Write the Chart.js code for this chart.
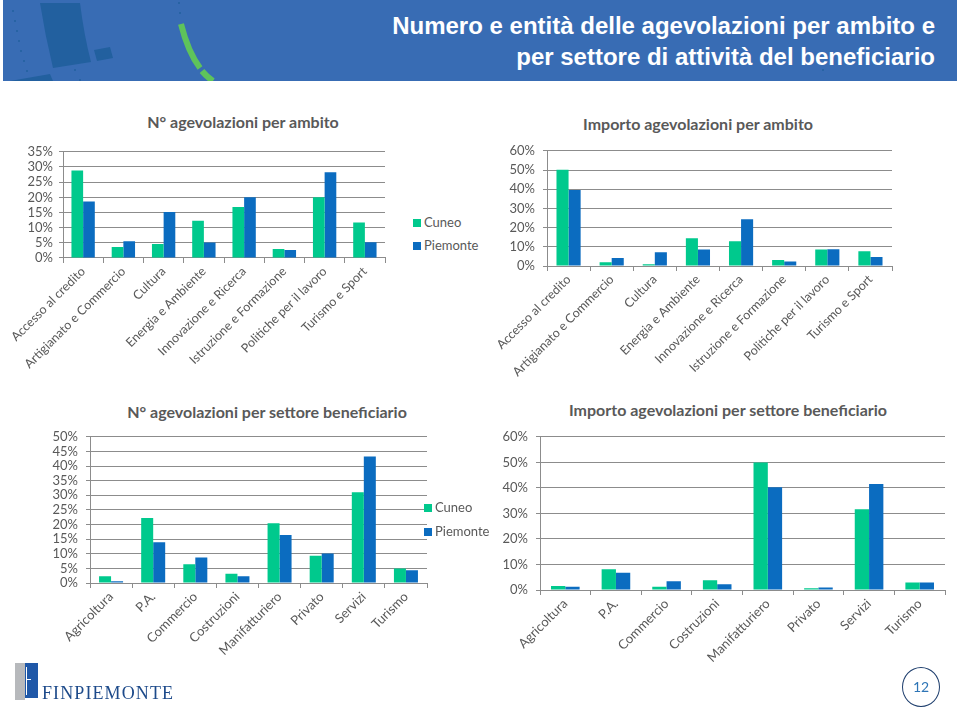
<!DOCTYPE html>
<html>
<head>
<meta charset="utf-8">
<script src="https://cdn.jsdelivr.net/npm/chart.js@4.4.1/dist/chart.umd.min.js"></script>
<style>
  html, body { margin:0; padding:0; background:#fff; }
  body { width:960px; height:708px; position:relative; overflow:hidden; font-family:'Lato', sans-serif; }
  #banner { position:absolute; left:3px; top:0; width:954px; height:81px; background:#386cb4; }
  #banner svg { position:absolute; left:-3px; top:0; }
  #mainTitle { position:absolute; right:22px; top:10px; text-align:right; color:#fff;
    font-family:'Liberation Sans Narrow','Liberation Sans',Arial,sans-serif; font-weight:bold; font-size:24px; line-height:31px; }
  canvas { position:absolute; }
  .ctitle { position:absolute; color:#595959; font-family:'Lato',sans-serif; font-weight:bold; font-size:16px; white-space:nowrap; transform:translateX(-50%); }
  .leg { position:absolute; color:#595959; font-family:'Lato',sans-serif; font-size:13px; line-height:14px; white-space:nowrap; }
  .leg span { display:inline-block; width:8px; height:8px; margin-right:3px; vertical-align:0px; }
  #logoText { position:absolute; left:42px; top:683px; font-family:'Liberation Serif','DejaVu Serif',serif; font-size:18px; color:#1d4a8a; letter-spacing:1.1px; }
  #pageNum { position:absolute; left:902px; top:667px; width:36px; height:38px; border:1.5px solid #1f3f6e; border-radius:50%;
    color:#2e75b6; font-family:'Lato',sans-serif; font-size:14px; line-height:38px; text-align:center; }
</style>
</head>
<body>
<div id="banner">
  <svg width="960" height="81" viewBox="0 0 960 81">
    <path d="M40,3 L80,3 Q84,35 91,62 L53,68 Q45,35 40,3 Z" fill="#22609f"/>
    <polygon points="94,50 110,47 113,58 97,61" fill="#22609f"/>
    <polygon points="10,81 50,74 53,81" fill="#22609f"/>
    <path d="M181,24 Q188,52 200,68" stroke="#5ec35b" stroke-width="6" fill="none"/>
    <path d="M202,71 Q207,77 213,81" stroke="#5ec35b" stroke-width="6" fill="none"/>
    <g fill="#22609f">
      <circle cx="13" cy="11" r="1"/><circle cx="15" cy="21" r="1"/><circle cx="17" cy="31" r="1"/>
      <circle cx="19" cy="41" r="1"/><circle cx="21" cy="51" r="1"/><circle cx="24" cy="61" r="1"/>
      <circle cx="27" cy="71" r="1"/><circle cx="75" cy="70" r="1"/><circle cx="80" cy="80" r="1"/>
      <circle cx="179" cy="3" r="1"/><circle cx="180" cy="13" r="1"/><circle cx="823" cy="70" r="1"/>
    </g>
  </svg>
  <div id="mainTitle">Numero e entità delle agevolazioni per ambito e<br>per settore di attività del beneficiario</div>
</div>

<div class="ctitle" style="left:243px; top:112px;">N° agevolazioni per ambito</div>
<div class="ctitle" style="left:698px; top:114px;">Importo agevolazioni per ambito</div>
<div class="ctitle" style="left:267px; top:402px;">N° agevolazioni per settore beneficiario</div>
<div class="ctitle" style="left:728px; top:400px;">Importo agevolazioni per settore beneficiario</div>

<canvas id="c1" width="400" height="242" style="left:0px; top:138px;"></canvas>
<canvas id="c2" width="430" height="245" style="left:480px; top:135px;"></canvas>
<canvas id="c3" width="440" height="259" style="left:0px; top:421px;"></canvas>
<canvas id="c4" width="475" height="259" style="left:480px; top:421px;"></canvas>

<div class="leg" style="left:413px; top:215px;"><span style="background:#00c98d"></span>Cuneo</div>
<div class="leg" style="left:413px; top:238px;"><span style="background:#0b6cc0"></span>Piemonte</div>
<div class="leg" style="left:424px; top:500px;"><span style="background:#00c98d"></span>Cuneo</div>
<div class="leg" style="left:424px; top:524px;"><span style="background:#0b6cc0"></span>Piemonte</div>

<svg style="position:absolute; left:0; top:655px;" width="60" height="53">
  <rect x="15" y="8" width="10" height="37" fill="#b7b9bc"/>
  <rect x="25" y="8" width="13" height="35" fill="#1f58a8"/>
  <rect x="26" y="12" width="1" height="28" fill="#ffffff"/>
  <rect x="26" y="24" width="5" height="1" fill="#ffffff"/>
</svg>
<div id="logoText">FINPIEMONTE</div>
<div id="pageNum">12</div>

<script>
// ---- data ----
const ambitoCategories = ['Accesso al credito','Artigianato e Commercio','Cultura','Energia e Ambiente','Innovazione e Ricerca','Istruzione e Formazione','Politiche per il lavoro','Turismo e Sport'];
const nAmbitoCuneo    = [28.8, 3.6, 4.6, 12.3, 16.8, 3.0, 20.0, 11.7];
const nAmbitoPiemonte = [18.6, 5.5, 15.2, 5.1, 20.0, 2.6, 28.3, 5.2];
const impAmbitoCuneo    = [50.1, 1.9, 0.9, 14.5, 12.9, 3.1, 8.6, 7.7];
const impAmbitoPiemonte = [39.6, 4.2, 7.2, 8.6, 24.4, 2.4, 8.7, 4.7];

const settoreCategories = ['Agricoltura','P.A.','Commercio','Costruzioni','Manifatturiero','Privato','Servizi','Turismo'];
const nSettoreCuneo    = [2.3, 22.2, 6.4, 3.2, 20.4, 9.3, 31.0, 5.0];
const nSettorePiemonte = [0.6, 13.9, 8.7, 2.3, 16.4, 10.1, 43.3, 4.4];
const impSettoreCuneo    = [1.6, 8.1, 1.3, 3.8, 49.9, 0.7, 31.6, 2.9];
const impSettorePiemonte = [1.3, 6.8, 3.4, 2.3, 40.2, 1.0, 41.5, 2.9];

const seriesNames = ['Cuneo', 'Piemonte'];
const nAmbitoTicks = { max: 35, step: 5 };
const impAmbitoTicks = { max: 60, step: 10 };
const nSettoreTicks = { max: 50, step: 5 };
const impSettoreTicks = { max: 60, step: 10 };

// ---- style ----
const COL_CUNEO = '#00c98d';
const COL_PIEM = '#0b6cc0';
const GRID = '#8c8c8c';
const TXT = '#595959';

function makeChart(id, cats, a, b, ticks, geo) {
  new Chart(document.getElementById(id), {
    type: 'bar',
    data: {
      labels: cats,
      datasets: [
        { label: seriesNames[0], data: a, backgroundColor: COL_CUNEO, borderWidth: 0, categoryPercentage: geo.cat, barPercentage: 1.0 },
        { label: seriesNames[1], data: b, backgroundColor: COL_PIEM, borderWidth: 0, categoryPercentage: geo.cat, barPercentage: 1.0 }
      ]
    },
    options: {
      responsive: false,
      animation: false,
      devicePixelRatio: 1,
      layout: { padding: { top: 0, right: geo.right, left: 0, bottom: 0 } },
      plugins: { legend: { display: false }, tooltip: { enabled: false }, title: { display: false } },
      scales: {
        x: {
          grid: { display: true, drawOnChartArea: false, drawTicks: true, tickLength: 5, color: GRID, offset: true },
          border: { display: true, color: GRID, width: 1 },
          ticks: { autoSkip: false, minRotation: 45, maxRotation: 45, padding: 1, color: TXT, font: { family: 'Lato', size: geo.xfs } },
          afterFit: s => { s.height = geo.xh; }
        },
        y: {
          min: 0, max: ticks.max,
          grid: { color: GRID, lineWidth: 1, drawTicks: true, tickLength: 4 },
          border: { display: true, color: GRID, width: 1 },
          ticks: { stepSize: ticks.step, autoSkip: false, padding: geo.ypad, color: TXT, font: { family: 'Lato', size: 13 }, callback: v => v + '%' },
          afterFit: s => { s.width = geo.yw; }
        }
      }
    }
  });
}

makeChart('c1', ambitoCategories, nAmbitoCuneo, nAmbitoPiemonte, nAmbitoTicks,
  { right: 15, yw: 63, xh: 122, cat: 0.58, ypad: 6, xfs: 12.5 });
makeChart('c2', ambitoCategories, impAmbitoCuneo, impAmbitoPiemonte, impAmbitoTicks,
  { right: 18, yw: 67, xh: 114, cat: 0.56, ypad: 8, xfs: 12.5 });
makeChart('c3', settoreCategories, nSettoreCuneo, nSettorePiemonte, nSettoreTicks,
  { right: 13, yw: 90, xh: 97, cat: 0.57, ypad: 8, xfs: 13 });
makeChart('c4', settoreCategories, impSettoreCuneo, impSettorePiemonte, impSettoreTicks,
  { right: 10, yw: 60, xh: 90, cat: 0.565, ypad: 8, xfs: 13 });
</script>
</body>
</html>
